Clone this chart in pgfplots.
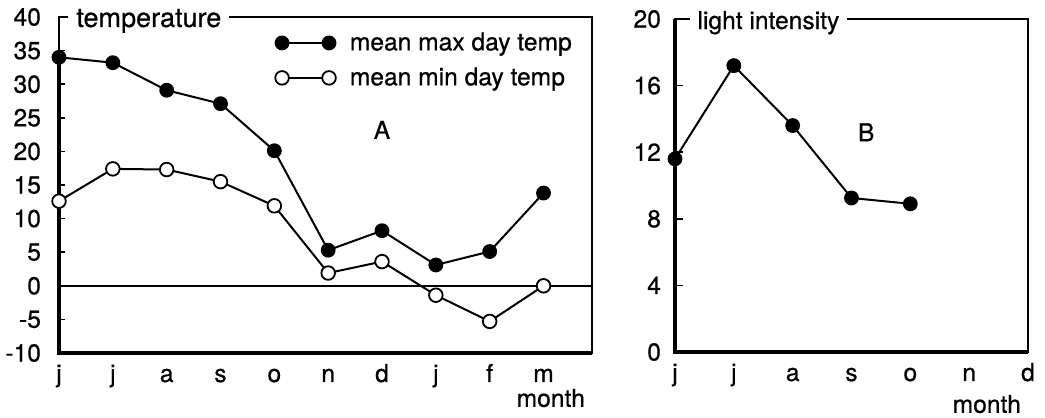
\documentclass[border=0pt]{standalone}
\usepackage{fontspec}
\setmainfont{TeX Gyre Heros}[FakeBold=0.6]
\usepackage{pgfplots}
\pgfplotsset{compat=1.18}
\pgfplotsset{
  myaxis/.style={
    scale only axis, clip=false,
    axis line style={line width=0.7pt},
    tick align=inside, ytick pos=left, xtick pos=bottom,
    xtick style={draw=none},
    ytick style={line width=0.8pt, black},
    /pgf/number format/assume math mode=true,
    tick label style={font=\fontsize{12.3}{14}\selectfont},
    xticklabel style={anchor=base, yshift=-14.5pt},
  },
}
\begin{document}
\begin{tikzpicture}[font=\fontsize{12.3}{14}\selectfont]
\path[use as bounding box] (0pt,0pt) rectangle (522.5pt,209pt);
% ---------- panel A ----------
\begin{axis}[myaxis,
  at={(29.5pt,32.5pt)}, anchor=south west,
  width=266.5pt, height=168pt,
  xmin=0, xmax=9.9, ymin=-10, ymax=40,
  ytick={-10,-5,...,40}, major tick length=3pt,
  yticklabel style={xshift=-5.5pt},
  xtick={0,...,9}, xticklabels={j,j,a,s,o,n,d,j,f,m},
  legend style={at={(0.405,0.967)}, anchor=north west, draw=none, fill=none,
    inner sep=0pt, row sep=3pt, column sep=5pt, font=\fontsize{12.3}{14}\selectfont},
  legend cell align=left,
  legend image code/.code={\draw[#1] plot coordinates {(0pt,0pt) (23.5pt,0pt)};},
]
\draw[line width=0.9pt] (axis cs:0,0) -- (axis cs:9.9,0);
\draw[line width=2pt] (axis cs:0,34) -- (rel axis cs:0,0) -- (rel axis cs:1,0);
\addplot[line width=1pt, mark=*, mark size=3.2pt, mark options={fill=black}]
  coordinates {(0,34)(1,33.2)(2,29.1)(3,27.1)(4,20.1)(5,5.3)(6,8.2)(7,3.1)(8,5.1)(9,13.8)};
\addlegendentry{mean max day temp}
\addplot[line width=1pt, mark=*, mark size=3.4pt, mark options={fill=white, line width=0.9pt}]
  coordinates {(0,12.6)(1,17.4)(2,17.3)(3,15.5)(4,11.9)(5,1.9)(6,3.6)(7,-1.4)(8,-5.3)(9,0)};
\addlegendentry{mean min day temp}
\node[anchor=base west, fill=white, inner xsep=4pt, inner ysep=2pt, yshift=-5pt, font=\fontsize{13.5}{15}\selectfont] at (rel axis cs:0.0169,1) {temperature};
\node at (axis cs:6,23.2) {A};
\node[anchor=east, yshift=-22.5pt] at (rel axis cs:1,0) {month};
\end{axis}
% ---------- panel B ----------
\begin{axis}[myaxis,
  at={(337.5pt,33pt)}, anchor=south west,
  width=176.5pt, height=166.5pt,
  xmin=0, xmax=6, ymin=0, ymax=20,
  ytick={0,4,...,20}, major tick length=4pt,
  yticklabel style={xshift=-3.5pt},
  xtick={0,...,6}, xticklabels={j,j,a,s,o,n,d},
]
\draw[line width=2pt] (rel axis cs:0,1) -- (rel axis cs:0,0) -- (rel axis cs:1,0);
\addplot[line width=1pt, mark=*, mark size=3.2pt, mark options={fill=black}]
  coordinates {(0,11.6)(1,17.2)(2,13.6)(3,9.25)(4,8.9)};
\node[anchor=base west, fill=white, inner xsep=4pt, inner ysep=2pt, yshift=-5pt] at (rel axis cs:0.04,1) {light intensity};
\node at (axis cs:3.25,13.2) {B};
\node[anchor=east, yshift=-26pt] at (rel axis cs:1,0) {month};
\end{axis}
\end{tikzpicture}
\end{document}
